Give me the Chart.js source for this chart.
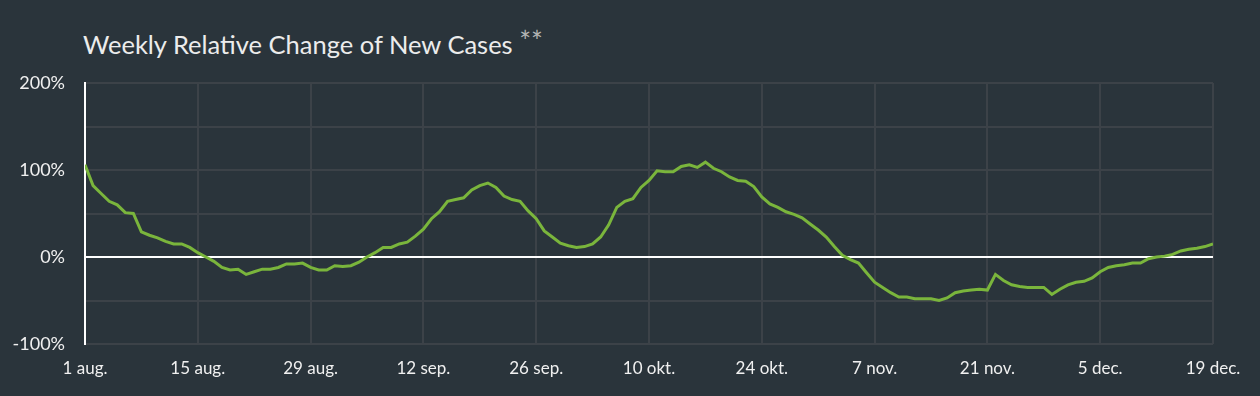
<!DOCTYPE html>
<html>
<head>
<meta charset="utf-8">
<script src="https://cdn.jsdelivr.net/npm/chart.js@4"></script>
<style>
  html, body { margin: 0; padding: 0; background: #2a343b; }
  body { width: 1260px; height: 396px; position: relative; overflow: hidden; font-family: Lato, sans-serif; }
  #title { position: absolute; left: 83px; top: 29px; font-size: 25.5px; color: #ececec; white-space: nowrap; }
  #title span { font-size: 28px; line-height: 0; color: #b4b4b4; vertical-align: 2px; }
  #wrap { position: absolute; left: 0; top: 0; width: 1260px; height: 396px; }
</style>
</head>
<body>
<div id="title">Weekly Relative Change of New Cases <span>**</span></div>
<div id="wrap"><canvas id="weeklyChart"></canvas></div>
<script>
// weekly relative change (%) per day, 1 aug. .. 19 dec.
const startDate = new Date(2020, 7, 1);
const monthNames = ['jan.', 'feb.', 'mrt.', 'apr.', 'mei', 'jun.', 'jul.', 'aug.', 'sep.', 'okt.', 'nov.', 'dec.'];

const changeAug = [106, 82, 73, 64, 60, 51, 50, 29, 25, 22, 18, 15, 15, 11, 5, 0,
    -5, -12, -15, -14, -20, -17, -14, -14, -12, -8, -8, -7, -12, -15, -15];
const changeSep = [-10, -11, -10, -6, 0, 5, 11, 11, 15, 17, 24, 32, 44, 52, 64,
    66, 68, 77, 82, 85, 80, 70, 66, 64, 53, 44, 30, 23, 16, 13];
const changeOct = [11, 12, 15, 23, 37, 57, 64, 67, 80, 88, 99, 98, 98, 104, 106,
    103, 109, 102, 98, 92, 88, 87, 81, 69, 61, 57, 52, 49, 45, 38, 31];
const changeNov = [23, 12, 2, -3, -7, -18, -29, -35, -41, -46, -46, -48, -48, -48, -50,
    -47, -41, -39, -38, -37, -38, -20, -27, -32, -34, -35, -35, -35, -43, -37];
const changeDec = [-32, -29, -28, -24, -17, -12, -10, -9, -7, -7, -2, 0, 1, 3, 7,
    9, 10, 12, 15];

const weeklyChange = [].concat(changeAug, changeSep, changeOct, changeNov, changeDec);
const yTickLabels = [-100, 0, 100, 200];

function dayLabel(i) {
    const d = new Date(startDate);
    d.setDate(d.getDate() + i);
    return d.getDate() + ' ' + monthNames[d.getMonth()];
}

const textColor = '#f0f0f0';
const gridColor = '#3c4248';

const ctx = document.getElementById('weeklyChart').getContext('2d');
const weeklyChart = new Chart(ctx, {
    type: 'line',
    data: {
        datasets: [{
            data: weeklyChange.map((v, i) => ({ x: i, y: v })),
            borderColor: '#7ab53c',
            borderWidth: 3,
            pointRadius: 0,
            tension: 0,
            fill: false
        }]
    },
    options: {
        responsive: true,
        maintainAspectRatio: false,
        animation: false,
        layout: {
            padding: { top: 83, right: 47, bottom: 0, left: 0 }
        },
        plugins: {
            legend: { display: false },
            tooltip: { enabled: false }
        },
        scales: {
            x: {
                type: 'linear',
                min: 0,
                max: weeklyChange.length - 1,
                afterFit: function (scale) { scale.height = 52; },
                ticks: {
                    stepSize: 14,
                    color: textColor,
                    padding: 14,
                    maxRotation: 0,
                    font: { family: 'Lato', size: 17 },
                    callback: function (value) { return dayLabel(value); }
                },
                grid: { color: gridColor, lineWidth: 2, drawTicks: false },
                border: { display: false }
            },
            y: {
                min: -100,
                max: 200,
                afterFit: function (scale) { scale.width = 85; },
                ticks: {
                    stepSize: 50,
                    color: textColor,
                    padding: 20,
                    font: { family: 'Lato', size: 18 },
                    callback: function (value) {
                        return yTickLabels.includes(value) ? value + '%' : '';
                    }
                },
                grid: {
                    lineWidth: 2,
                    drawTicks: false,
                    color: function (c) { return c.tick && c.tick.value === 0 ? '#ffffff' : gridColor; }
                },
                border: { color: '#ffffff', width: 2 }
            }
        }
    }
});
</script>
</body>
</html>
